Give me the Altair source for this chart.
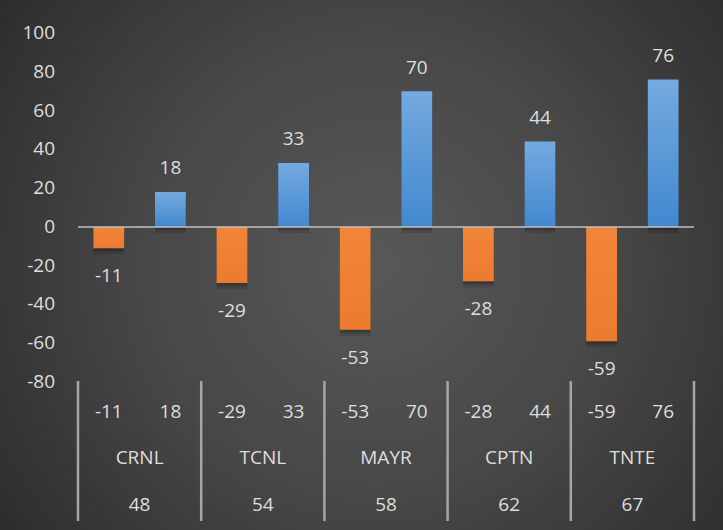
import altair as alt
import pandas as pd

# Paired values per site: a negative and a positive reading, plus a site number
groups = ["CRNL", "TCNL", "MAYR", "CPTN", "TNTE"]
site_numbers = ["48", "54", "58", "62", "67"]
neg_values = [-11, -29, -53, -28, -59]
pos_values = [18, 33, 70, 44, 76]

y_ticks = [-80, -60, -40, -20, 0, 20, 40, 60, 80, 100]

FONT = "Open Sans"
TEXT = "#dedede"
W, H = 616, 349

rows = []
for g, n, a, b in zip(groups, site_numbers, neg_values, pos_values):
    rows.append({"group": g, "num": n, "series": "neg", "value": a, "label": str(a)})
    rows.append({"group": g, "num": n, "series": "pos", "value": b, "label": str(b)})
df = pd.DataFrame(rows)
df_groups = pd.DataFrame({"group": groups, "num": site_numbers})
df_last = df_groups.tail(1)
df_ticks = pd.DataFrame({"tick": y_ticks, "tick_label": [str(t) for t in y_ticks]})

x_enc = alt.X("group:N", sort=groups, axis=None,
              scale=alt.Scale(paddingInner=0, paddingOuter=0))
xoff_enc = alt.XOffset("series:N", sort=["neg", "pos"],
                       scale=alt.Scale(paddingInner=0.5, paddingOuter=0.25))
y_scale = alt.Scale(domain=[-80, 100], nice=False, zero=False)
y_plain = alt.Y("value:Q", scale=y_scale, axis=None)

# Dark radial background across the full canvas
background = alt.Chart(pd.DataFrame({"k": [0]})).mark_rect(
    color=alt.Gradient(
        gradient="radial",
        stops=[alt.GradientStop(color="#585858", offset=0),
               alt.GradientStop(color="#474747", offset=0.45),
               alt.GradientStop(color="#262626", offset=1)],
        x1=0.52, y1=0.5, r1=0, x2=0.52, y2=0.5, r2=0.72,
    )
).encode(
    x=alt.value(-78), x2=alt.value(W + 29),
    y=alt.value(-33), y2=alt.value(H + 148),
)

base = alt.Chart(df)

# Y tick labels (no axis line, ticks or grid)
y_labels = alt.Chart(df_ticks).mark_text(
    font=FONT, fontSize=19, color=TEXT, align="right", baseline="middle"
).encode(
    x=alt.value(-23),
    y=alt.Y("tick:Q", scale=y_scale, axis=None),
    text="tick_label:N",
)

# Soft drop shadows under the bars
shadow1 = base.mark_bar(color="black", opacity=0.18, yOffset=3, y2Offset=3, xOffset=1, x2Offset=1).encode(
    x=x_enc, xOffset=xoff_enc, y=y_plain, y2=alt.datum(0),
)
shadow2 = base.mark_bar(color="black", opacity=0.12, yOffset=6, y2Offset=6, xOffset=2, x2Offset=2).encode(
    x=x_enc, xOffset=xoff_enc, y=y_plain, y2=alt.datum(0),
)

neg_bars = base.transform_filter(alt.datum.series == "neg").mark_bar(
    color=alt.Gradient(
        gradient="linear",
        stops=[alt.GradientStop(color="#f1853a", offset=0),
               alt.GradientStop(color="#ec7b2f", offset=1)],
        x1=0, y1=0, x2=0, y2=1,
    )
).encode(x=x_enc, xOffset=xoff_enc, y=y_plain, y2=alt.datum(0))

pos_bars = base.transform_filter(alt.datum.series == "pos").mark_bar(
    color=alt.Gradient(
        gradient="linear",
        stops=[alt.GradientStop(color="#74aadf", offset=0),
               alt.GradientStop(color="#4288cf", offset=1)],
        x1=0, y1=0, x2=0, y2=1,
    )
).encode(x=x_enc, xOffset=xoff_enc, y=y_plain, y2=alt.datum(0))

zero_line = alt.Chart(pd.DataFrame({"k": [0]})).mark_rule(
    color="#c0c0c0", opacity=0.75, strokeWidth=2
).encode(x=alt.value(0), x2=alt.value(W), y=alt.datum(0, axis=None))

# Value labels above / below bars
pos_labels = base.transform_filter(alt.datum.series == "pos").mark_text(
    font=FONT, fontSize=19, color=TEXT, baseline="alphabetic", dy=-17.5
).encode(x=x_enc, xOffset=xoff_enc, y=y_plain, text="label:N")

neg_labels = base.transform_filter(alt.datum.series == "neg").mark_text(
    font=FONT, fontSize=19, color=TEXT, baseline="alphabetic", dy=34
).encode(x=x_enc, xOffset=xoff_enc, y=y_plain, text="label:N")

# Multi-level category axis below the plot
row1 = base.mark_text(font=FONT, fontSize=19, color=TEXT, baseline="middle").encode(
    x=x_enc, xOffset=xoff_enc, y=alt.value(379), text="label:N")
row2 = alt.Chart(df_groups).mark_text(font=FONT, fontSize=19, color=TEXT, baseline="middle").encode(
    x=x_enc, y=alt.value(425), text="group:N")
row3 = alt.Chart(df_groups).mark_text(font=FONT, fontSize=19, color=TEXT, baseline="middle").encode(
    x=x_enc, y=alt.value(472), text="num:N")

sep_start = alt.Chart(df_groups).mark_rule(color="#a6a6a6", strokeWidth=2.5).encode(
    x=alt.X("group:N", sort=groups, axis=None, bandPosition=0,
            scale=alt.Scale(paddingInner=0, paddingOuter=0)),
    y=alt.value(348), y2=alt.value(488))
sep_end = alt.Chart(df_last).mark_rule(color="#a6a6a6", strokeWidth=2.5).encode(
    x=alt.X("group:N", sort=groups, axis=None, bandPosition=1,
            scale=alt.Scale(paddingInner=0, paddingOuter=0)),
    y=alt.value(348), y2=alt.value(488))

chart = alt.layer(
    background, y_labels, shadow2, shadow1, neg_bars, pos_bars, zero_line,
    pos_labels, neg_labels, row1, row2, row3, sep_start, sep_end,
).properties(
    width=W, height=H,
    autosize=alt.AutoSizeParams(type="none"),
    padding={"left": 78, "top": 33, "right": 29, "bottom": 148},
    background="#2b2b2b",
).configure_view(stroke=None)

chart.save("out.html", embed_options={"renderer": "svg", "actions": False})
